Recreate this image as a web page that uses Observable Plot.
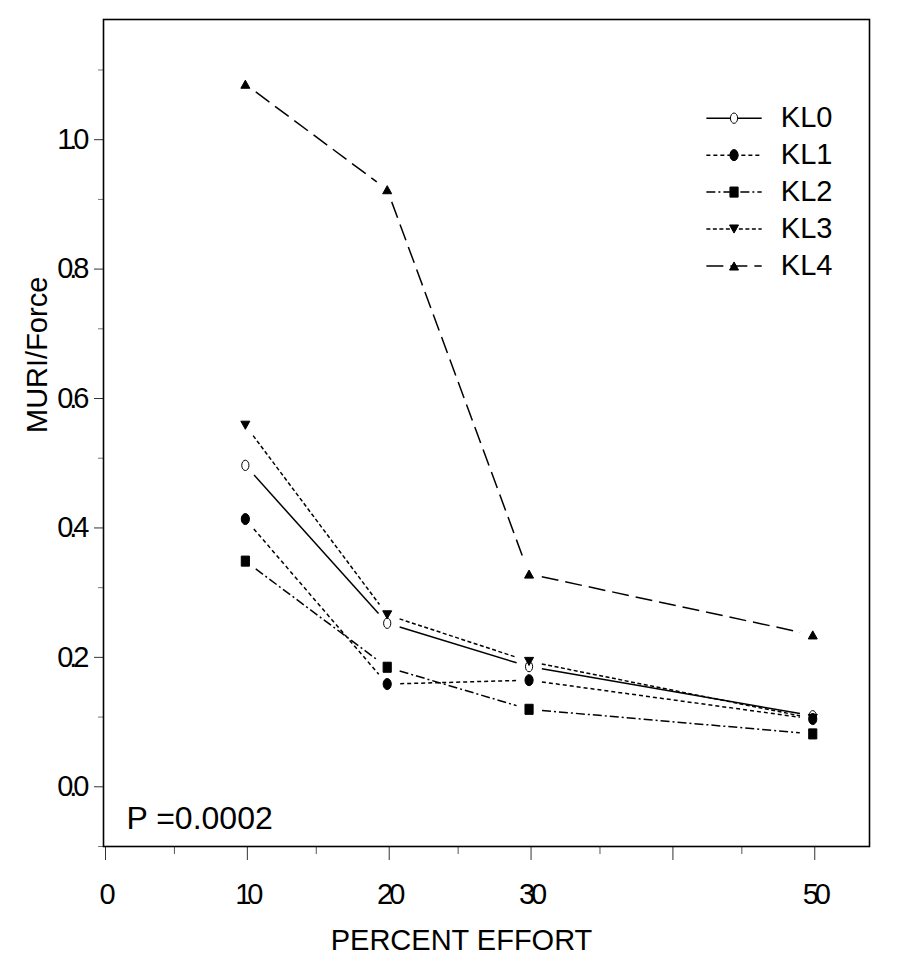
<!DOCTYPE html>
<html>
<head>
<meta charset="utf-8">
<script src="https://cdn.jsdelivr.net/npm/d3@7"></script>
<script src="https://cdn.jsdelivr.net/npm/@observablehq/plot@0.6"></script>
<style>
  body { margin: 0; background: #fff; }
  svg { font-family: "Liberation Sans", Arial, sans-serif; }
  g[aria-label="x-axis tick label"] text,
  g[aria-label="y-axis tick label"] text { letter-spacing: -4px; }
  g[aria-label="legend-text"] text { letter-spacing: -3px; }
</style>
</head>
<body>
<div id="chart"></div>
<script>
// ---- data ----
const effort = [10, 20, 30, 50];
const seriesNames = ["KL0", "KL1", "KL2", "KL3", "KL4"];
const KL0 = [0.489, 0.245, 0.178, 0.102];
const KL1 = [0.406, 0.151, 0.157, 0.097];
const KL2 = [0.341, 0.177, 0.112, 0.074];
const KL3 = [0.551, 0.258, 0.186, 0.098];
const KL4 = [1.078, 0.915, 0.321, 0.227];
const xTicks = [0, 10, 20, 30, 40, 50];
const xTickLabels = ["0", "10", "20", "30", "", "50"];
const xMinorTicks = [5, 15, 25, 35, 45];
const yTicks = [0, 0.2, 0.4, 0.6, 0.8, 1.0];
const yTickLabels = ["0.0", "0.2", "0.4", "0.6", "0.8", "1.0"];
const yMinorTicks = [-0.1, 0.1, 0.3, 0.5, 0.7, 0.9, 1.1];
const xTitle = "PERCENT EFFORT";
const yTitle = "MURI/Force";
const annotation = "P =0.0002";

const values = [KL0, KL1, KL2, KL3, KL4];

// ---- symbols ----
function ellipseSym(ax, ay) {
  return {draw(ctx, size) {
    const r = Math.sqrt(size / Math.PI), rx = r * ax, ry = r * ay, k = 0.5523;
    ctx.moveTo(rx, 0);
    ctx.bezierCurveTo(rx, ry * k, rx * k, ry, 0, ry);
    ctx.bezierCurveTo(-rx * k, ry, -rx, ry * k, -rx, 0);
    ctx.bezierCurveTo(-rx, -ry * k, -rx * k, -ry, 0, -ry);
    ctx.bezierCurveTo(rx * k, -ry, rx, -ry * k, rx, 0);
    ctx.closePath();
  }};
}
function rectSym(ax, ay) {
  return {draw(ctx, size) {
    const r = Math.sqrt(size / Math.PI), w = r * ax, h = r * ay;
    ctx.moveTo(-w, -h); ctx.lineTo(w, -h); ctx.lineTo(w, h); ctx.lineTo(-w, h); ctx.closePath();
  }};
}
function triSym(up) {
  return {draw(ctx, size) {
    const r = Math.sqrt(size / Math.PI), w = r, h = r * 0.9, s = up ? 1 : -1;
    ctx.moveTo(0, -h * s); ctx.lineTo(w, h * s); ctx.lineTo(-w, h * s); ctx.closePath();
  }};
}
const styles = [
  {dash: null,        symbol: ellipseSym(0.8, 1.15), fill: "white", stroke: "black", r: 4.5},
  {dash: "4,3",       symbol: ellipseSym(0.85, 1.15), fill: "black", stroke: "black", r: 4.8},
  {dash: "9,3,2,3",   symbol: rectSym(0.85, 1.05), fill: "black", stroke: "black", r: 4.8},
  {dash: "4,2.5",     symbol: triSym(false), fill: "black", stroke: "black", r: 4.5},
  {dash: "17,7",      symbol: triSym(true), fill: "black", stroke: "black", r: 4.5}
];

// ---- derived tables ----
const points = seriesNames.map((name, s) => effort.map((x, i) => ({series: name, x, y: values[s][i]})));
const segments = points.map(pts => pts.slice(1).map((p, i) => ({x1: pts[i].x, y1: pts[i].y, x2: p.x, y2: p.y})));

// legend layout (in data units of the frame)
const legendLineX = [42.5, 46.4], legendMarkX = 44.45, legendTextX = 47.75;
const legendRows = seriesNames.map((name, i) => ({name, y: 1.0255 - i * 0.0571}));

const font = 29;
const marks = [];

// axes
marks.push(Plot.axisX({ticks: xMinorTicks, tickSize: 8, tickFormat: () => "", stroke: "#555", label: null}));
marks.push(Plot.axisX({ticks: xTicks, tickSize: 14, tickPadding: 23, tickFormat: d => xTickLabels[xTicks.indexOf(d)],
  fontSize: font, stroke: "#333", fill: "black", dx: 2, label: null}));
marks.push(Plot.axisY({ticks: yMinorTicks, tickSize: 5, tickFormat: () => "", stroke: "#777", label: null}));
marks.push(Plot.axisY({ticks: yTicks, tickSize: 9, tickPadding: 9, tickFormat: d => yTickLabels[yTicks.findIndex(t => Math.abs(t - d) < 1e-9)],
  fontSize: font, stroke: "#333", fill: "black", dy: 5, label: null}));

// titles
marks.push(Plot.text([xTitle], {text: d => d, frameAnchor: "bottom", dx: -25, dy: 94, fontSize: font, fill: "black", lineAnchor: "middle"}));
marks.push(Plot.text([yTitle], {text: d => d, frameAnchor: "left", rotate: -90, dx: -66, fontSize: font, fill: "black", lineAnchor: "middle"}));
marks.push(Plot.text([annotation], {text: d => d, frameAnchor: "bottom-left", textAnchor: "start", dx: 23, dy: -28, fontSize: 32, fill: "black", lineAnchor: "middle"}));

// series lines
segments.forEach((segs, s) => {
  marks.push(Plot.arrow(segs, {x1: "x1", y1: "y1", x2: "x2", y2: "y2", headLength: 0, inset: 13,
    stroke: "black", strokeWidth: 1.5, strokeLinecap: "butt", strokeDasharray: styles[s].dash || undefined}));
});
// series markers
points.forEach((pts, s) => {
  const st = styles[s];
  marks.push(Plot.dot(pts, {x: "x", y: "y", symbol: st.symbol, r: st.r, fill: st.fill, stroke: st.stroke, strokeWidth: 1}));
});

// legend
legendRows.forEach((row, s) => {
  const st = styles[s];
  marks.push(Plot.link([row], {x1: legendLineX[0], x2: legendLineX[1], y1: "y", y2: "y", stroke: "black", strokeWidth: 1.5,
    strokeDasharray: st.dash || undefined}));
  marks.push(Plot.dot([row], {x: legendMarkX, y: "y", symbol: st.symbol, r: st.r, fill: st.fill, stroke: st.stroke, strokeWidth: 1}));
});
marks.push(Plot.text(legendRows, {x: legendTextX, y: "y", text: "name", textAnchor: "start", fontSize: font, fill: "black",
  lineAnchor: "middle", ariaLabel: "legend-text"}));

marks.push(Plot.frame({stroke: "black", strokeWidth: 1.6}));

const chart = Plot.plot({
  width: 900,
  height: 975,
  marginTop: 19,
  marginLeft: 103,
  marginRight: 31,
  marginBottom: 129,
  x: {domain: [0, 54]},
  y: {domain: [-0.1, 1.178]},
  style: {fontFamily: '"Liberation Sans", Arial, sans-serif', background: "white", color: "black", overflow: "visible"},
  marks
});
document.getElementById("chart").appendChild(chart);
</script>
</body>
</html>
